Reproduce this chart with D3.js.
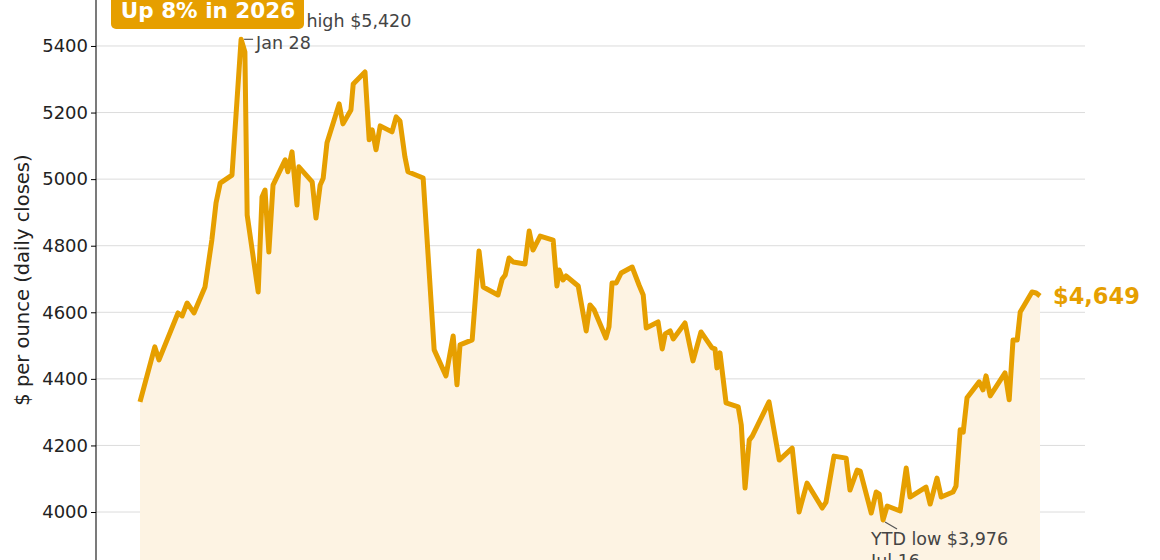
<!DOCTYPE html>
<html><head><meta charset="utf-8">
<script src="https://cdn.jsdelivr.net/npm/d3@7"></script>
<style>body{margin:0;background:#fff}svg{display:block;font-family:"DejaVu Sans",sans-serif}</style>
</head><body><svg id="c" width="1160" height="560"></svg>
<script>
// day index from Jan 1, 2026
const days = [0,3.9,5.0,10.0,11.1,12.4,14.2,17.1,18.9,20.0,21.1,24.2,26.6,27.6,28.2,31.1,32.1,32.9,33.9,35.0,38.2,38.9,40.0,41.3,41.8,45.3,46.3,47.4,48.2,49.2,52.4,53.4,55.5,56.1,59.2,60.3,61.1,62.1,63.2,66.3,67.4,68.4,69.7,70.5,73.7,74.5,77.4,80.5,82.4,83.4,84.2,87.4,89.2,90.3,94.2,95.3,96.1,97.1,98.2,101.3,102.4,103.4,105.3,108.7,109.7,110.3,111.3,112.1,115.3,117.4,118.4,119.5,122.6,123.4,124.2,125.3,126.6,129.5,131.3,132.4,133.2,136.3,137.4,138.2,139.5,140.3,143.4,145.5,147.6,150.5,151.3,151.8,152.6,154.2,157.4,158.2,159.2,160.3,161.1,165.5,168.2,171.6,173.4,175.5,179.5,180.5,182.6,185.8,186.8,188.7,189.5,192.4,193.7,194.5,195.5,196.6,200.0,201.6,202.6,206.8,207.9,209.7,210.8,213.9,214.7,215.8,216.6,217.6,220.8,221.8,222.6,223.7,227.6,228.7,229.7,230.8,231.6,234.7,235.8,236.8];
const prices = [4331,4496,4457,4598,4589,4628,4598,4676,4817,4928,4988,5012,5420,5382,4892,4661,4946,4967,4781,4982,5058,5022,5082,4922,5037,4992,4883,4982,5003,5109,5226,5166,5208,5286,5322,5118,5148,5088,5160,5142,5187,5175,5067,5022,5007,5003,4487,4409,4529,4382,4502,4517,4784,4676,4652,4700,4712,4763,4751,4745,4844,4787,4829,4817,4679,4727,4697,4709,4679,4544,4622,4607,4523,4556,4688,4688,4718,4736,4682,4652,4553,4571,4490,4535,4544,4520,4568,4454,4541,4493,4490,4433,4478,4328,4316,4262,4072,4216,4228,4331,4156,4192,4000,4087,4012,4030,4168,4162,4066,4126,4123,3997,4060,4054,3976,4018,4003,4132,4045,4075,4024,4102,4045,4060,4078,4247,4240,4343,4391,4367,4409,4349,4418,4337,4517,4517,4601,4661,4658,4649];
const yTicks = [4000,4200,4400,4600,4800,5000,5200,5400];
const ORANGE = "#E69F00";
const data = days.map((d,i)=>({d, v:prices[i]}));
const svg = d3.select("#c");
const x = d3.scaleLinear().domain([0,236.8]).range([140,1040]);
const y = d3.scaleLinear().domain([3800,5600]).range([578.6,-20.6]);

svg.append("g").selectAll("line").data(yTicks).join("line")
  .attr("x1",96).attr("x2",1085).attr("y1",d=>y(d)).attr("y2",d=>y(d))
  .attr("stroke","#dcdcdc").attr("stroke-width",1);

svg.append("path").datum(data).attr("fill","#fdf3e3")
  .attr("d",d3.area().x(d=>x(d.d)).y0(620).y1(d=>y(d.v)));

const ax = svg.append("g").attr("transform","translate(96,0)")
  .call(d3.axisLeft(y).tickValues(yTicks).tickFormat(d3.format("d")).tickSize(5));
ax.select(".domain").attr("d","M0,-30V600").attr("stroke","#222").attr("stroke-width",1.2);
ax.selectAll("text").attr("font-size",18).attr("fill","#222").attr("font-family","DejaVu Sans");

svg.append("text").attr("transform","translate(29,280) rotate(-90)").attr("text-anchor","middle")
  .attr("font-size",19.5).attr("fill","#222").text("$ per ounce (daily closes)");

svg.append("path").datum(data).attr("fill","none").attr("stroke",ORANGE).attr("stroke-width",5)
  .attr("stroke-linejoin","round").attr("d",d3.line().x(d=>x(d.d)).y(d=>y(d.v)));

// high annotation
const hi = data[12];
svg.append("line").attr("x1",x(hi.d)+3).attr("x2",x(hi.d)+12).attr("y1",y(hi.v)).attr("y2",y(hi.v)).attr("stroke","#555").attr("stroke-width",1.2);
svg.append("text").attr("x",266).attr("y",27).attr("font-size",17.5).attr("fill","#444").text("YTD high $5,420");
svg.append("text").attr("x",256).attr("y",49).attr("font-size",17.5).attr("fill","#444").text("Jan 28");
// low annotation
const lo = data[114];
svg.append("line").attr("x1",x(lo.d)+2).attr("x2",x(lo.d)+14).attr("y1",y(lo.v)+2).attr("y2",y(lo.v)+9).attr("stroke","#555").attr("stroke-width",1.2);
svg.append("text").attr("x",871).attr("y",545).attr("font-size",17.5).attr("fill","#444").text("YTD low $3,976");
svg.append("text").attr("x",871).attr("y",567).attr("font-size",17.5).attr("fill","#444").text("Jul 16");

// end label
const last = data[data.length-1];
svg.append("text").attr("x",x(last.d)+13).attr("y",y(last.v)+8).attr("font-size",22.5).attr("font-weight","bold")
  .attr("fill",ORANGE).text("$4,649");

// badge
svg.append("rect").attr("x",111).attr("y",-8).attr("width",193).attr("height",37).attr("rx",5).attr("fill",ORANGE);
svg.append("text").attr("x",208).attr("y",18).attr("text-anchor","middle").attr("font-size",21.5).attr("font-weight","bold")
  .attr("fill","#fff").text("Up 8% in 2026");
</script></body></html>
